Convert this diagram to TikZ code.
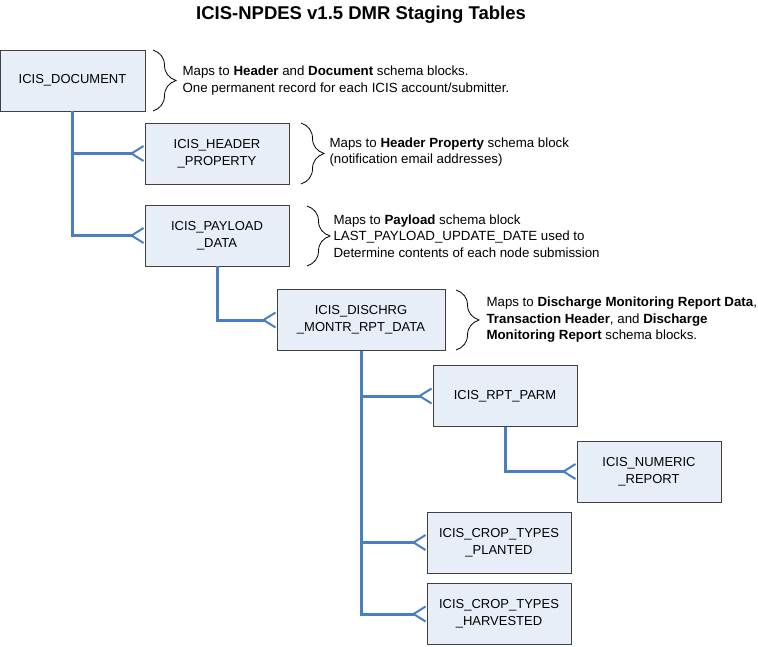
\documentclass[tikz,border=0pt]{standalone}
\usepackage{fontspec}
\setmainfont{Liberation Sans}
\usepackage{tikz}
\usetikzlibrary{arrows.meta}
\usetikzlibrary{decorations,decorations.pathreplacing}
\usepackage{xcolor}
\definecolor{linkblue}{RGB}{74,126,196}
\definecolor{boxfill}{RGB}{232,238,247}
\definecolor{boxline}{RGB}{64,64,64}
\tikzstyle{tablebox}=[draw=boxline,fill=boxfill,line width=0.9pt,minimum width=144pt,minimum height=61pt,align=center,font=\fontsize{13}{17}\selectfont]
\tikzstyle{notetext}=[anchor=west,align=left,font=\fontsize{13.3}{16.5}\selectfont]
\tikzstyle{notebrace}=[draw,line width=0.8pt,decorate,decoration={brace,amplitude=23pt}]
\tikzstyle{linkline}=[draw=linkblue,line width=3pt,-{Straight Barb[reversed,length=12pt,width=15pt,line width=2pt]}]

\begin{document}
\begin{tikzpicture}[x=1pt,y=-1pt]
	\useasboundingbox (0,0) rectangle (758,646);
	\node[font=\fontsize{18.5}{22}\selectfont\bfseries] (title) at (361,15) {ICIS-NPDES v1.5 DMR Staging Tables};
	% tables
	\node[tablebox,minimum width=145pt] (doc) at (72.5,80.5) {ICIS\_DOCUMENT};
	\node[tablebox] (hdr) at (217,153.5) {ICIS\_HEADER\\\_PROPERTY};
	\node[tablebox] (pay) at (217,235.5) {ICIS\_PAYLOAD\\\_DATA};
	\node[tablebox,minimum width=168pt] (dmr) at (361,320) {ICIS\_DISCHRG\\\_MONTR\_RPT\_DATA};
	\node[tablebox] (parm) at (505,396) {ICIS\_RPT\_PARM};
	\node[tablebox] (num) at (649,471.5) {ICIS\_NUMERIC\\\_REPORT};
	\node[tablebox] (plant) at (499,542.5) {ICIS\_CROP\_TYPES\\\_PLANTED};
	\node[tablebox] (harv) at (499,614) {ICIS\_CROP\_TYPES\\\_HARVESTED};
	% links
	\draw[linkline] (doc.south) |- (hdr.west);
	\draw[linkline] (doc.south) |- (pay.west);
	\draw[linkline] (pay.south) |- (dmr.west);
	\draw[linkline] (dmr.south) |- (parm.west);
	\draw[linkline] (dmr.south) |- (plant.west);
	\draw[linkline] (dmr.south) |- (harv.west);
	\draw[linkline] (parm.south) |- (num.west);
	% notes
	\draw[notebrace] (153,50) -- (153,111);
	\node[notetext] (docnote) at (179,80.5) {Maps to \textbf{Header} and \textbf{Document} schema blocks.\\One permanent record for each ICIS account/submitter.};
	\draw[notebrace] (301,123) -- (301,184);
	\node[notetext] (hdrnote) at (326,152) {Maps to \textbf{Header Property} schema block\\(notification email addresses)};
	\draw[notebrace] (307,206) -- (307,266);
	\node[notetext] (paynote) at (330,236) {Maps to \textbf{Payload} schema block\\LAST\_PAYLOAD\_UPDATE\_DATE used to\\Determine contents of each node submission};
	\draw[notebrace] (456,290) -- (456,350);
	\node[notetext] (dmrnote) at (483,320) {Maps to \textbf{Discharge Monitoring Report Data},\\\textbf{Transaction Header}, and \textbf{Discharge}\\\textbf{Monitoring Report} schema blocks.};
\end{tikzpicture}
\end{document}
